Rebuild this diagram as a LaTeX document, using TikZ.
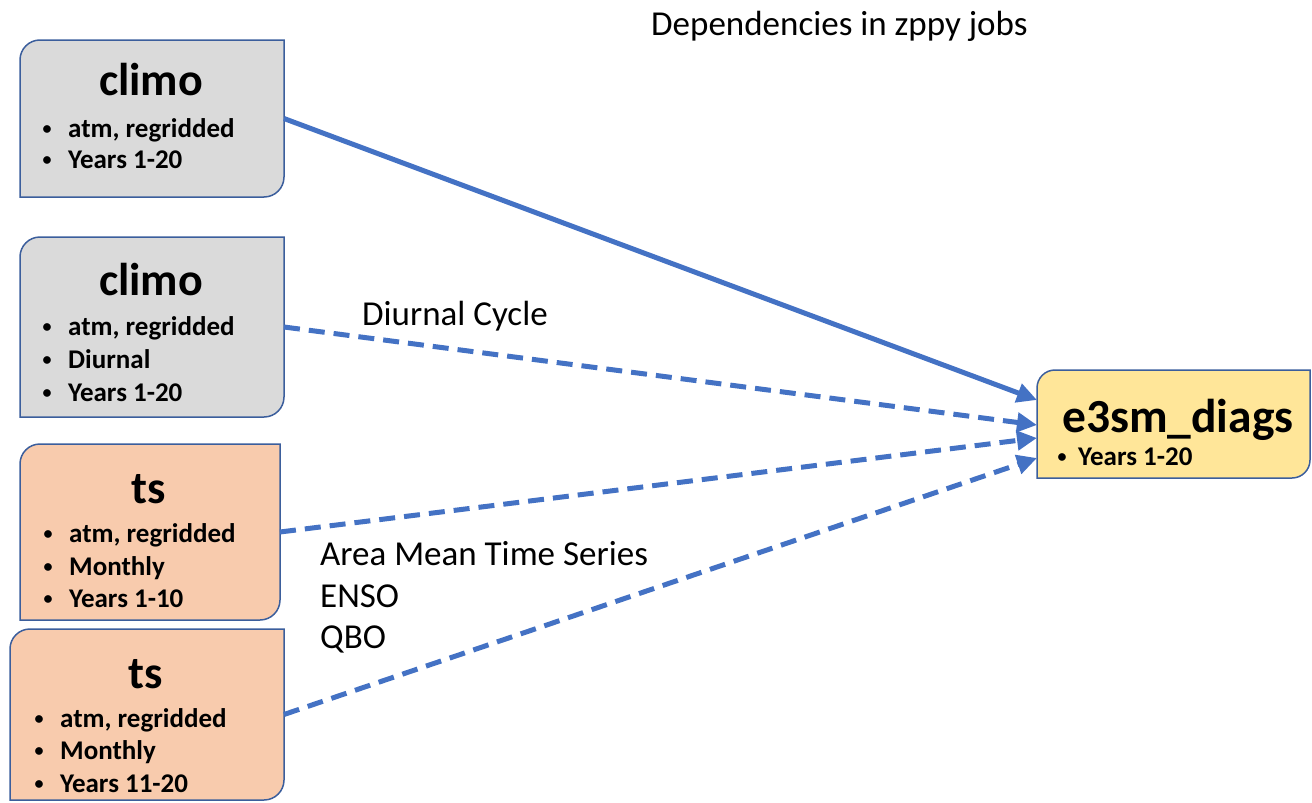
\documentclass[tikz,border=0pt]{standalone}
\usepackage{fontspec}
\setmainfont{Carlito}
\usetikzlibrary{arrows.meta}
\definecolor{linkblue}{HTML}{4472C4}
\definecolor{edgeblue}{HTML}{3B5E9C}
\definecolor{greyfill}{HTML}{DADADA}
\definecolor{salmon}{HTML}{F8CBAD}
\definecolor{gold}{HTML}{FFE699}
\newcommand{\diagshape}[3]{%
  \draw[boxline, fill=#2] ([yshift=-#3]#1.north west) -- (#1.south west)
    -- ([xshift=-#3]#1.south east) arc[start angle=270, end angle=360, radius=#3]
    -- (#1.north east) -- ([xshift=#3]#1.north west)
    arc[start angle=90, end angle=180, radius=#3] -- cycle;}
\newcommand{\bdot}{\raisebox{2.5pt}{\fontsize{18}{18}\selectfont •}}
\newcommand{\bul}{\llap{\makebox[0pt]{\bdot}\hspace{21pt}}}
\begin{document}
\begin{tikzpicture}[x=1pt, y=-1pt,
  boxnode/.style={draw=none, inner sep=0pt, outer sep=0pt, anchor=north west},
  boxline/.style={draw=edgeblue, line width=1.5pt},
  head/.style={font=\fontsize{46}{50}\selectfont\bfseries, inner sep=0pt, anchor=base},
  item/.style={font=\fontsize{27}{30}\selectfont\bfseries, inner sep=0pt, anchor=base west},
  lbl/.style={font=\fontsize{35}{40}\selectfont, inner sep=0pt, anchor=base west},
  dep/.style={draw=linkblue, line width=5pt, -{Triangle[length=20pt,width=19pt]}},
  depd/.style={dep, dash pattern=on 16pt off 9pt}]
\useasboundingbox (0,0) rectangle (1312,803);

% boxes
\node[boxnode, minimum width=264pt, minimum height=157pt] (c1) at (20,40) {};
\diagshape{c1}{greyfill}{20pt}
\node[boxnode, minimum width=264pt, minimum height=180pt] (c2) at (20,237) {};
\diagshape{c2}{greyfill}{20pt}
\node[boxnode, minimum width=260pt, minimum height=176pt] (t1) at (20,444) {};
\diagshape{t1}{salmon}{20pt}
\node[boxnode, minimum width=274pt, minimum height=171pt] (t2) at (10,629) {};
\diagshape{t2}{salmon}{20pt}
\node[boxnode, minimum width=273pt, minimum height=108pt] (e3) at (1037,370) {};
\diagshape{e3}{gold}{18pt}

% box texts
\node[head] (c1h) at (151,95) {climo};
\node[item] (c1a) at (68,137) {\bul atm, regridded};
\node[item] (c1b) at (68,168) {\bul Years 1-20};

\node[head] (c2h) at (151,295) {climo};
\node[item] (c2a) at (68,335) {\bul atm, regridded};
\node[item] (c2b) at (68,368) {\bul Diurnal};
\node[item] (c2c) at (68,401) {\bul Years 1-20};

\node[head] (t1h) at (149,503) {ts};
\node[item] (t1a) at (69,542) {\bul atm, regridded};
\node[item] (t1b) at (69,575) {\bul Monthly};
\node[item] (t1c) at (69,607) {\bul Years 1-10};

\node[head] (t2h) at (146,688) {ts};
\node[item] (t2a) at (60,727) {\bul atm, regridded};
\node[item] (t2b) at (60,759) {\bul Monthly};
\node[item] (t2c) at (60,792) {\bul Years 11-20};

\node[head, font=\fontsize{47.5}{50}\selectfont\bfseries, anchor=base west] (e3h) at (1062,432) {e3sm\_diags};
\node[item] (e3a) at (1078,465) {\llap{\makebox[0pt]{\bdot}\hspace{16pt}}Years 1-20};

% labels
\node[lbl] (ttl) at (651,35) {Dependencies in zppy jobs};
\node[lbl] (dcl) at (362,325) {Diurnal Cycle};
\node[lbl] (aml) at (320,565) {Area Mean Time Series};
\node[lbl] (enl) at (320,607) {ENSO};
\node[lbl] (qbl) at (320,648) {QBO};

% connectors
\draw[dep] (c1.east) -- ([yshift=24pt]e3.west);
\draw[depd] (c2.east) -- ([yshift=-1pt]e3.west);
\draw[depd] (t1.east) -- ([yshift=-14pt]e3.west);
\draw[depd] (t2.east) -- ([yshift=-34pt]e3.west);
\end{tikzpicture}
\end{document}
